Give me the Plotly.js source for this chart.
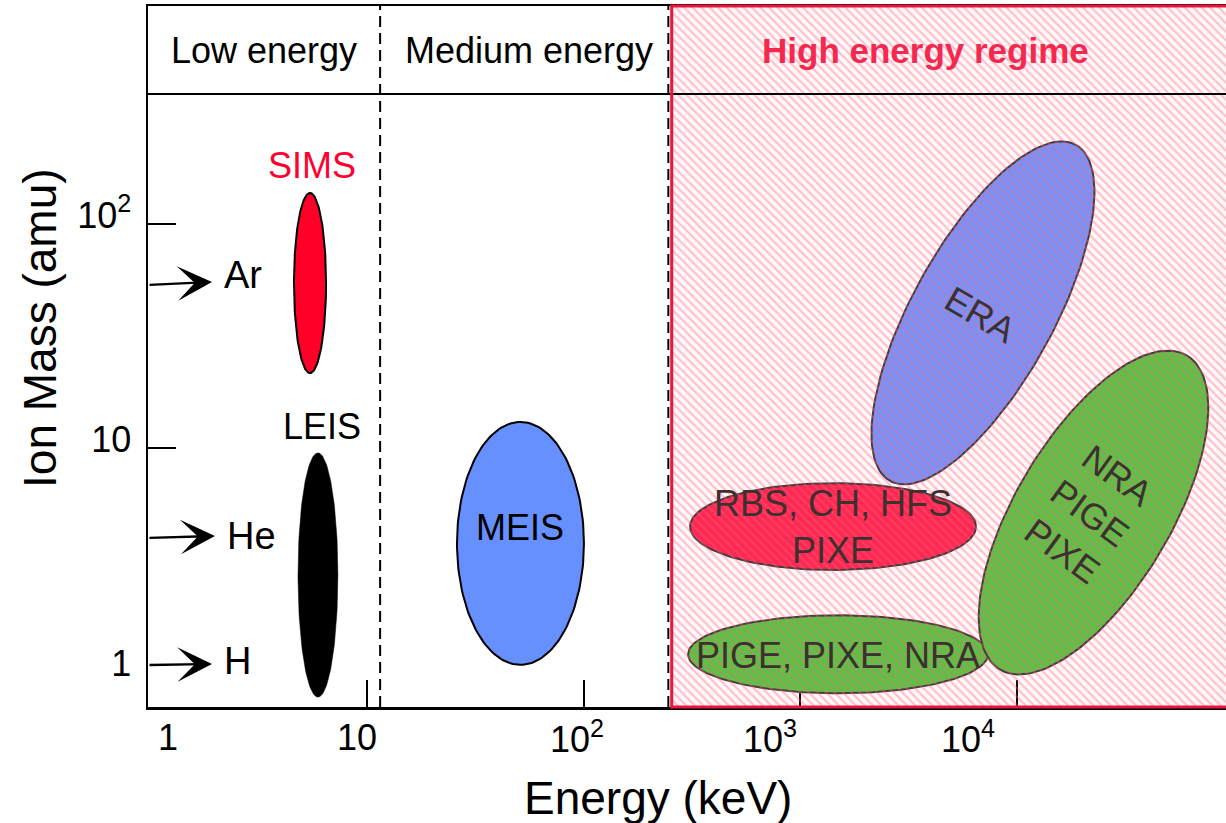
<!DOCTYPE html>
<html><head><meta charset="utf-8">
<script src="https://cdn.plot.ly/plotly-3.0.1.min.js"></script>
<style>html,body{margin:0;padding:0;background:#fff}</style>
</head><body><div id="chart" style="width:1226px;height:823px"></div>
<script>
// ---------------- data ----------------
const techniques = ['SIMS', 'LEIS', 'MEIS', 'RBS, CH, HFS<br>PIXE', 'PIGE, PIXE, NRA', 'ERA', 'NRA<br>PIGE<br>PIXE'];
const energyCenterKeV = [5.46, 5.94, 51.1, 1416, 1493, 6966, 22550];
const massCenterAmu   = [54.5, 2.71, 3.75, 4.46, 1.20, 40.1, 5.15];
const semiAxisA_dec   = [0.074, 0.092, 0.293, 0.66, 0.692, 0.864, 0.823];   // decades
const semiAxisB_dec   = [0.402, 0.545, 0.542, 0.194, 0.174, 0.323, 0.355];  // decades
const tiltDeg         = [0, 0, 0, 0, 0, 60, 58];

const ions = ['Ar', 'He', 'H'];
const ionArrowMassAmu = [55.1, 4.05, 1.086];

const regimeNames = ['Low energy', 'Medium energy', 'High energy regime'];
const regimeBoundsKeV = [11.5, 255];

const xTickVals = [1, 10, 100, 1000, 10000];
const xTickText = ['1', '10', '10<sup>2</sup>', '10<sup>3</sup>', '10<sup>4</sup>'];
const yTickVals = [1, 10, 100];
const yTickText = ['1', '10', '10<sup>2</sup>'];

// ---------------- styles / placement ----------------
const FONT = 'Liberation Sans, Arial, Helvetica, sans-serif';
const fillColors = ['#ff0029', '#000000', '#6690ff', '#ff1f4b', '#4cc63c', '#6c92ff', '#4cc63c'];
const lineColors = ['#000000', '#000000', '#000000', '#3d3333', '#3d3333', '#3d3333', '#3d3333'];
const labelColors = ['#ff0030', '#000000', '#000000', '#3d3030', '#3d3030', '#3d3030', '#3d3030'];
// label anchor positions (log10 keV, log10 amu) and angles
const labelPos = [[0.7463, 2.2634], [0.7924, 1.0938], [1.7063, 0.6473], [3.1500, 0.6473],
                  [3.1740, 0.0759], [3.8295, 1.5938], [4.3370, 0.7098]];
const labelAngle = [0, 0, 0, 0, 0, 30, 36];

const XR = [-0.0106, 4.9647];
const YR = [-0.15625, 2.97321];

function ellipse(i) {
  const n = 160, xs = [], ys = [];
  const cx = Math.log10(energyCenterKeV[i]), cy = Math.log10(massCenterAmu[i]);
  const th = tiltDeg[i] * Math.PI / 180, a = semiAxisA_dec[i], b = semiAxisB_dec[i];
  for (let k = 0; k <= n; k++) {
    const t = 2 * Math.PI * k / n;
    const dx = a * Math.cos(t) * Math.cos(th) - b * Math.sin(t) * Math.sin(th);
    const dy = a * Math.cos(t) * Math.sin(th) + b * Math.sin(t) * Math.cos(th);
    xs.push(Math.pow(10, cx + dx));
    ys.push(Math.pow(10, cy + dy));
  }
  return {xs, ys};
}

const traces = techniques.map((name, i) => {
  const e = ellipse(i);
  return {
    type: 'scatter', mode: 'lines', x: e.xs, y: e.ys, fill: 'toself',
    fillcolor: fillColors[i], line: {color: lineColors[i], width: i === 1 ? 0.5 : 2},
    yaxis: i < 2 ? 'y2' : 'y', hoverinfo: 'skip', showlegend: false, name: name.replace(/<br>/g, ' ')
  };
});

// hatched high-energy regime overlay
traces.push({
  type: 'scatter', mode: 'lines',
  x: [regimeBoundsKeV[1], 1e6, 1e6, regimeBoundsKeV[1], regimeBoundsKeV[1]],
  y: [0.01, 0.01, 1e5, 1e5, 0.01],
  fill: 'toself', fillcolor: 'rgba(255,140,160,0.08)',
  fillpattern: {shape: '\\', size: 6, solidity: 0.36, fgcolor: 'rgba(255,95,125,0.38)', bgcolor: 'rgba(255,150,170,0.07)'},
  line: {width: 0, color: 'rgba(0,0,0,0)'}, hoverinfo: 'skip', showlegend: false
});

const ann = [];
const base = {showarrow: false, xanchor: 'center', yanchor: 'middle'};
// regime headers
const headerX = [0.1076, 0.3534, 0.7217];
regimeNames.forEach((r, i) => ann.push(Object.assign({}, base, {
  xref: 'paper', yref: 'paper', x: headerX[i], y: 0.936,
  text: i === 2 ? '<b>' + r + '</b>' : r,
  font: {family: FONT, size: i === 2 ? 35 : 36, color: i === 2 ? 'rgb(245,40,80)' : '#000'}
})));
// x tick labels (drawn as in the reference, slightly off their ticks)
const xLabelLog = [0.0817, 0.9543, 1.9697, 2.8602, 3.7743];
xTickText.forEach((t, i) => ann.push(Object.assign({}, base, {
  xref: 'x', yref: 'paper', x: xLabelLog[i], y: -0.043, text: t,
  font: {family: FONT, size: 36, color: '#000'}
})));
// axis titles
ann.push(Object.assign({}, base, {xref: 'paper', yref: 'paper', x: 0.4731, y: -0.13, text: 'Energy (keV)',
  font: {family: FONT, size: 46, color: '#000'}}));
ann.push(Object.assign({}, base, {xref: 'paper', yref: 'paper', x: -0.1002, y: 0.5407, text: 'Ion Mass (amu)', textangle: -90,
  font: {family: FONT, size: 46, color: '#000'}}));
// technique labels
techniques.forEach((t, i) => ann.push(Object.assign({}, base, {
  xref: 'x', yref: 'y', x: labelPos[i][0], y: labelPos[i][1], text: t,
  textangle: labelAngle[i], font: {family: FONT, size: 36, color: labelColors[i]}
})));
// ion arrows
const arrowTipX = [0.2848, 0.2986, 0.2848];
const arrowAx = [-64, -67, -64];
const arrowAy = [3, 2, 1];
const ionLabelDy = [0.03, 0.0, 0.015];
ions.forEach((ion, i) => {
  ann.push({xref: 'x', yref: 'y', x: arrowTipX[i], y: Math.log10(ionArrowMassAmu[i]), text: '', showarrow: true,
    ax: arrowAx[i], ay: arrowAy[i], arrowhead: 3, arrowsize: 2.4, arrowwidth: 2.4, arrowcolor: '#000', standoff: 0});
  ann.push({xref: 'x', yref: 'y', x: arrowTipX[i] + 0.045, y: Math.log10(ionArrowMassAmu[i]) + ionLabelDy[i], text: ion,
    xanchor: 'left', yanchor: 'middle', showarrow: false, font: {family: FONT, size: 38, color: '#000'}});
});

const shapes = [
  {type: 'line', xref: 'x', yref: 'paper', x0: regimeBoundsKeV[0], x1: regimeBoundsKeV[0], y0: 0, y1: 1,
   line: {color: '#000', width: 2, dash: '11px,6px'}},
  {type: 'line', xref: 'x', yref: 'paper', x0: 246, x1: 246, y0: 0, y1: 1,
   line: {color: '#000', width: 2, dash: '11px,6px'}},
  {type: 'line', xref: 'paper', yref: 'paper', x0: 0, x1: 1, y0: 0.8745, y1: 0.8745,
   line: {color: '#000', width: 2}},
  {type: 'rect', xref: 'x', yref: 'paper', x0: regimeBoundsKeV[1], x1: 1e6, y0: 0, y1: 1,
   line: {color: 'rgb(235,20,60)', width: 3}, layer: 'above'}
];

const layout = {
  width: 1226, height: 823, margin: {l: 148, r: 0, t: 6, b: 116},
  paper_bgcolor: '#fff', plot_bgcolor: '#fff', showlegend: false,
  font: {family: FONT, size: 36, color: '#000'},
  xaxis: {type: 'log', range: XR, autorange: false, tickvals: xTickVals.slice(1), ticks: 'inside', ticklen: 27,
    tickwidth: 2, tickcolor: '#000', showticklabels: false, showgrid: false, zeroline: false,
    showline: true, linecolor: '#000', linewidth: 2.5, mirror: true, layer: 'below traces', fixedrange: true},
  yaxis: {type: 'log', range: YR, autorange: false, tickvals: yTickVals, ticktext: yTickText, ticks: '',
    tickfont: {family: FONT, size: 36, color: '#000'}, ticklabelstandoff: 7, ticklabelshift: -9,
    showgrid: false, zeroline: false, showline: true, linecolor: '#000', linewidth: 2.5, layer: 'below traces', fixedrange: true},
  yaxis2: {type: 'log', overlaying: 'y', side: 'left', range: YR, autorange: false, tickvals: [10, 100],
    ticks: 'inside', ticklen: 28, tickwidth: 2, tickcolor: '#000', showticklabels: false, showgrid: false,
    zeroline: false, showline: false, fixedrange: true},
  shapes: shapes, annotations: ann
};

Plotly.newPlot('chart', traces, layout, {staticPlot: true, displayModeBar: false});
</script></body></html>
